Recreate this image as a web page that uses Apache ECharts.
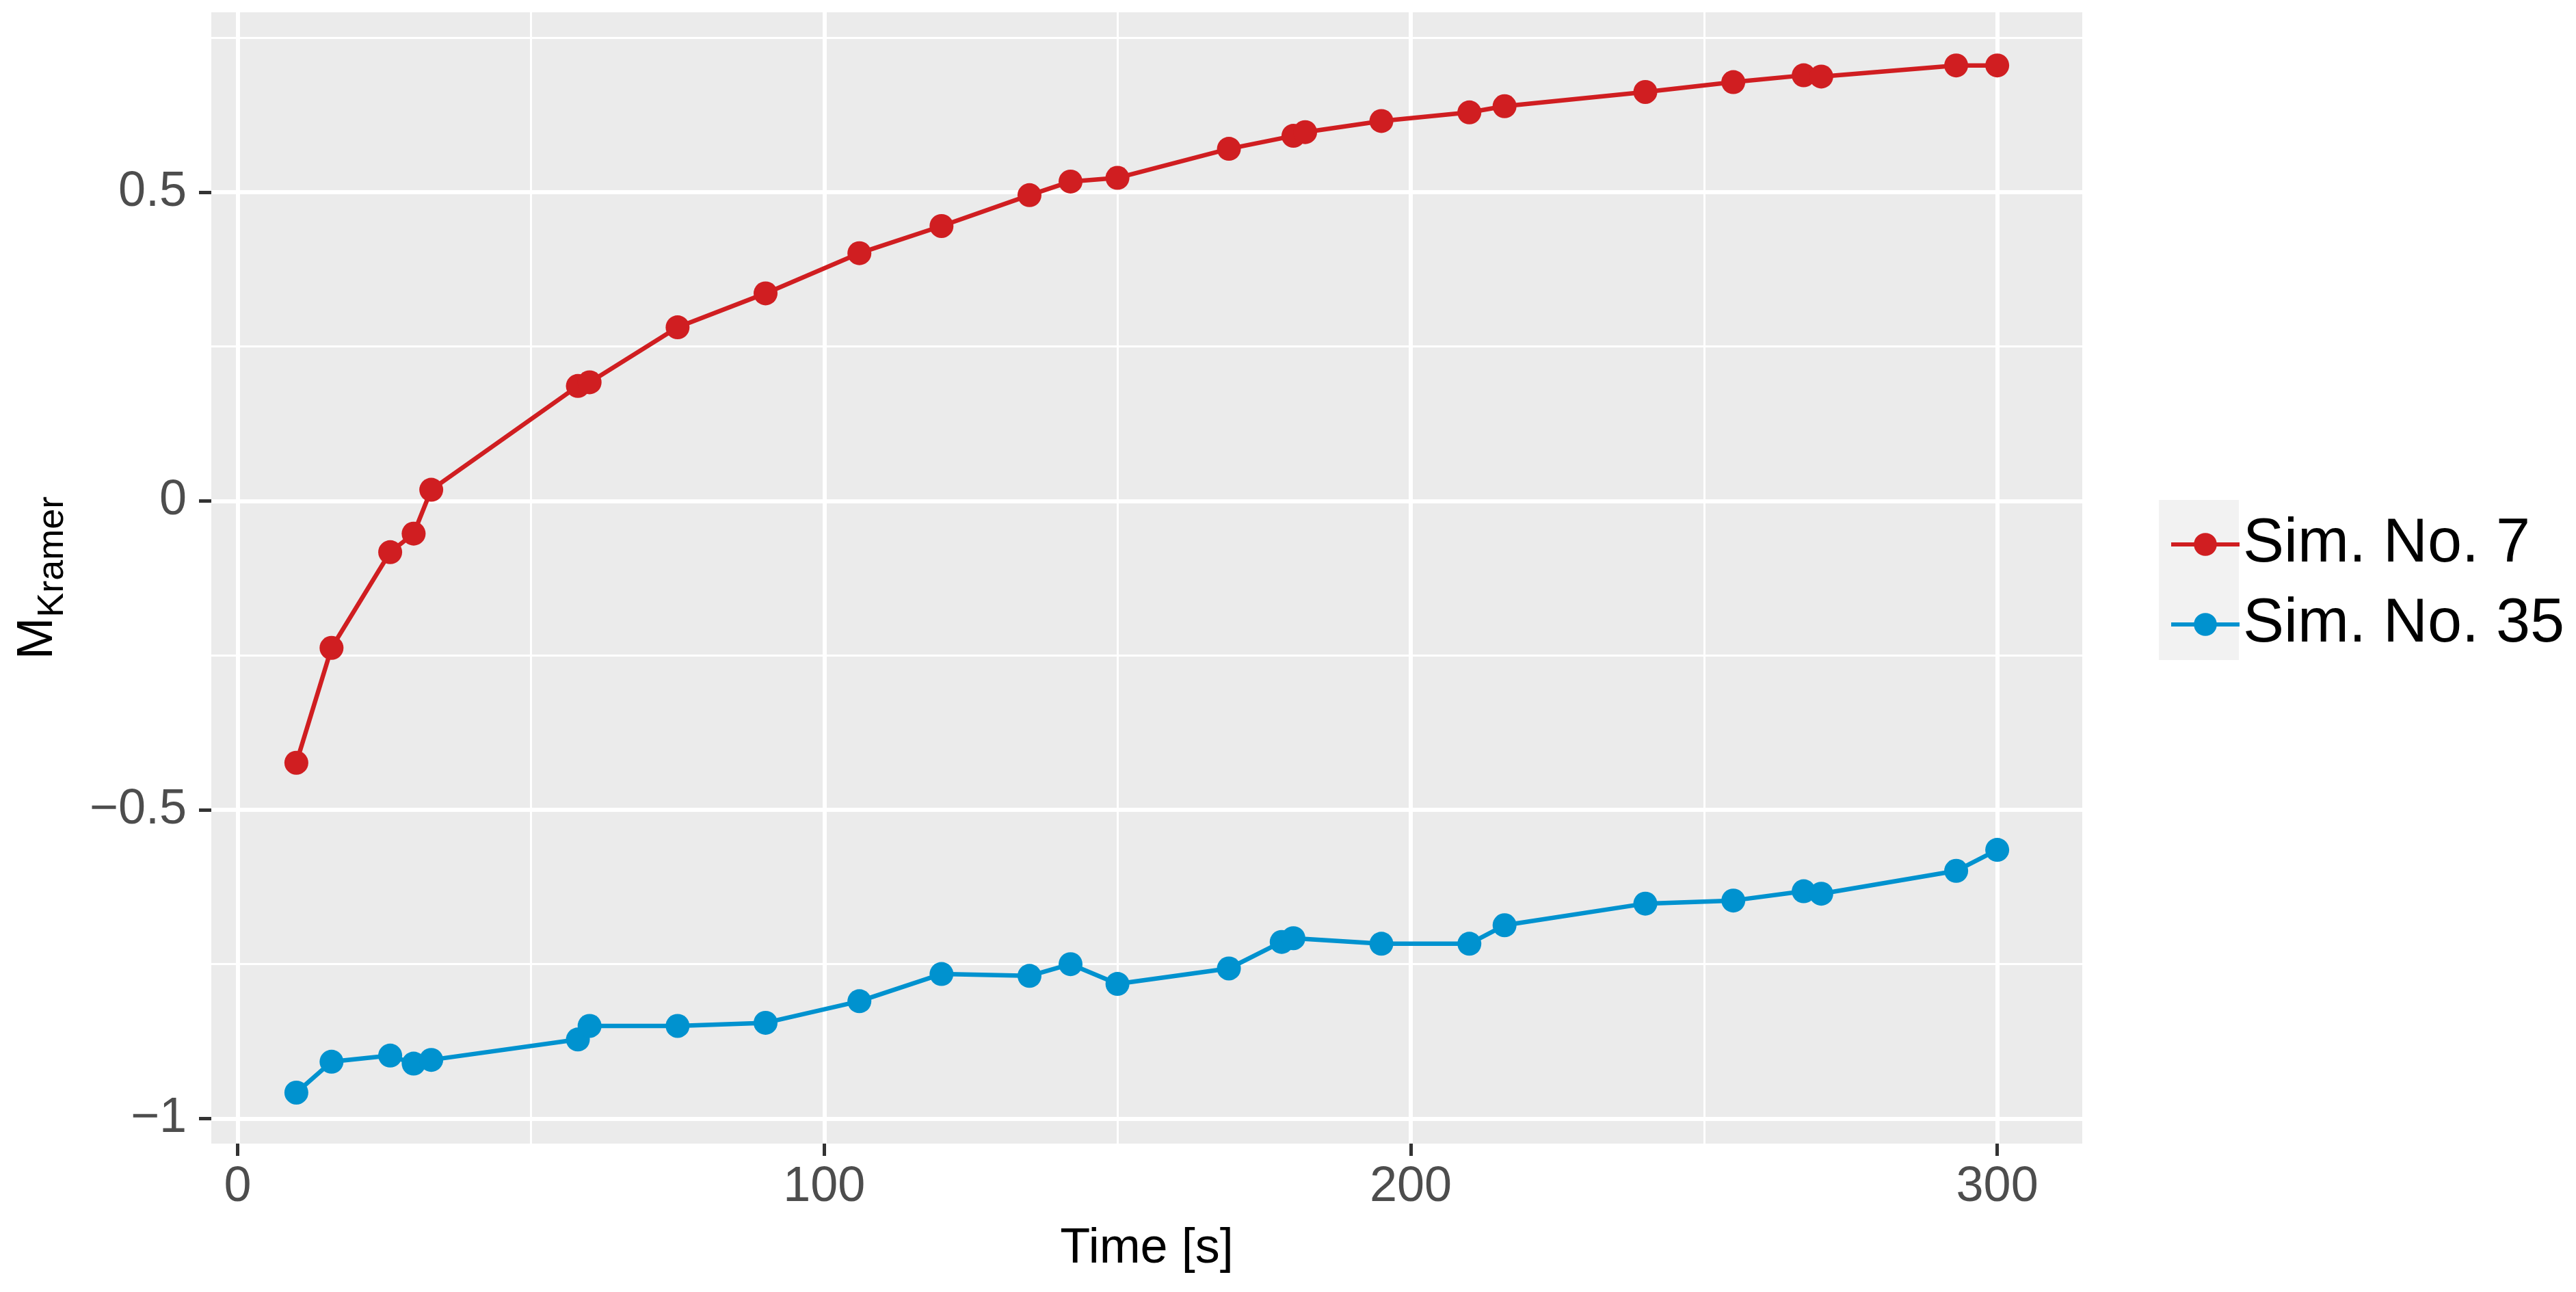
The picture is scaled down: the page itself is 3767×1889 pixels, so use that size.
<!DOCTYPE html>
<html>
<head>
<meta charset="utf-8">
<script src="https://cdn.jsdelivr.net/npm/echarts@6/dist/echarts.min.js"></script>
<style>
html,body{margin:0;padding:0;background:#fff;}
#chart{width:3767px;height:1889px;}
</style>
</head>
<body>
<div id="chart"></div>
<script>
// ---- data ----
const seriesNames = ['Sim. No. 7', 'Sim. No. 35'];
const timeSim7 = [10,16,26,30,33,58,60,75,90,106,120,135,142,150,169,180,182,195,210,216,240,255,267,270,293,300];
const valSim7  = [-0.424,-0.238,-0.083,-0.053,0.018,0.186,0.192,0.281,0.336,0.401,0.445,0.495,0.517,0.523,0.570,0.591,0.597,0.615,0.629,0.639,0.662,0.678,0.689,0.687,0.705,0.705];
const timeSim35 = [10,16,26,30,33,58,60,75,90,106,120,135,142,150,169,178,180,195,210,216,240,255,267,270,293,300];
const valSim35  = [-0.958,-0.908,-0.898,-0.911,-0.905,-0.872,-0.850,-0.850,-0.845,-0.810,-0.766,-0.769,-0.750,-0.782,-0.757,-0.714,-0.708,-0.717,-0.717,-0.687,-0.652,-0.647,-0.632,-0.636,-0.599,-0.565];
const xMajorTicks = [0, 100, 200, 300];
const xMinorTicks = [50, 150, 250];
const yMajorTicks = [-1, -0.5, 0, 0.5];
const yMinorTicks = [-0.75, -0.25, 0.25, 0.75];
const xRange = [-4.5, 314.5];
const yRange = [-1.0405, 0.791];

const colors = ['#D01E21', '#0092CF'];
const FONT = 'Liberation Sans, Arial, sans-serif';

const pairs = (xs, ys) => xs.map((x, i) => [x, ys[i]]);
const fmtNum = v => String(v).replace('-', '\u2212');

const chart = echarts.init(document.getElementById('chart'), null, {renderer: 'canvas'});

const grid = {left: 309, right: 722, top: 18, bottom: 217, show: true, backgroundColor: '#EBEBEB', borderWidth: 0};

function majorAxis(range, ticks, isX) {
  return {
    type: 'value', min: range[0], max: range[1],
    axisLine: {show: false, onZero: false},
    axisTick: {show: true, length: 18, customValues: ticks, lineStyle: {color: '#333333', width: 5}},
    axisLabel: {show: true, customValues: ticks, formatter: fmtNum, color: '#4D4D4D',
      fontSize: 72, fontFamily: FONT, margin: isX ? 28 : 36},
    splitLine: {show: true, lineStyle: {color: '#FFFFFF', width: 6}},
    minorTick: {show: false}, minorSplitLine: {show: false}
  };
}
function minorAxis(range, ticks) {
  return {
    type: 'value', min: range[0], max: range[1],
    axisLine: {show: false, onZero: false},
    axisTick: {show: false, customValues: ticks},
    axisLabel: {show: false, customValues: ticks},
    splitLine: {show: true, lineStyle: {color: '#FFFFFF', width: 3}}
  };
}

const xMain = majorAxis(xRange, xMajorTicks, true);
xMain.name = 'Time [s]';
xMain.nameLocation = 'middle';
xMain.nameGap = 118;
xMain.nameTextStyle = {fontSize: 72, color: '#000000', fontFamily: FONT};

const yMain = majorAxis(yRange, yMajorTicks, false);
yMain.name = '{m|M}{s|Kramer}';
yMain.nameLocation = 'middle';
yMain.nameRotate = 90;
yMain.nameGap = 205;
yMain.nameTextStyle = {
  color: '#000000', fontFamily: FONT,
  rich: {
    m: {fontSize: 74, color: '#000000', fontFamily: FONT},
    s: {fontSize: 54, color: '#000000', fontFamily: FONT, padding: [42, 0, 0, 0]}
  }
};

const option = {
  animation: false,
  backgroundColor: '#FFFFFF',
  grid: grid,
  xAxis: [xMain, minorAxis(xRange, xMinorTicks)],
  yAxis: [yMain, minorAxis(yRange, yMinorTicks)],
  legend: {
    data: seriesNames,
    orient: 'vertical',
    left: 3167, top: 746,
    itemWidth: 100, itemHeight: 42,
    itemGap: 27,
    lineStyle: {width: 6},
    textStyle: {fontSize: 90, color: '#000000', fontFamily: FONT},
    selectedMode: false
  },
  graphic: [{
    type: 'rect', left: 3157, top: 731, z: -10,
    shape: {width: 117, height: 234},
    style: {fill: '#F2F2F2'}
  }],
  series: [
    {
      name: seriesNames[0], type: 'line', xAxisIndex: 0, yAxisIndex: 0,
      data: pairs(timeSim7, valSim7),
      symbol: 'circle', symbolSize: 35, showSymbol: true,
      lineStyle: {color: colors[0], width: 6.5},
      itemStyle: {color: colors[0]},
      z: 3
    },
    {
      name: seriesNames[1], type: 'line', xAxisIndex: 0, yAxisIndex: 0,
      data: pairs(timeSim35, valSim35),
      symbol: 'circle', symbolSize: 35, showSymbol: true,
      lineStyle: {color: colors[1], width: 6.5},
      itemStyle: {color: colors[1]},
      z: 3
    }
  ]
};
chart.setOption(option);
</script>
</body>
</html>
